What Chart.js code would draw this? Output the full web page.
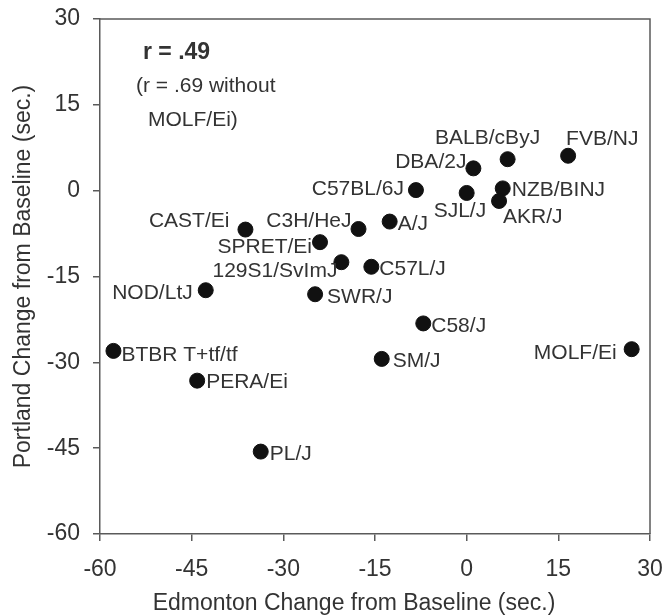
<!DOCTYPE html>
<html>
<head>
<meta charset="utf-8">
<script src="https://cdn.jsdelivr.net/npm/chart.js@4"></script>
<style>
  html, body { margin: 0; padding: 0; background: #fff; }
  #wrap { width: 667px; height: 616px; }
</style>
</head>
<body>
<div id="wrap"><canvas id="grafico" width="667" height="616"></canvas></div>
<script>
const strains = ["BALB/cByJ", "FVB/NJ", "DBA/2J", "C57BL/6J", "SJL/J", "NZB/BINJ", "AKR/J",
  "C3H/HeJ", "A/J", "CAST/Ei", "SPRET/Ei", "129S1/SvImJ", "C57L/J", "NOD/LtJ", "SWR/J",
  "C58/J", "SM/J", "MOLF/Ei", "BTBR T+tf/tf", "PERA/Ei", "PL/J"];
const edmonton = [6.7, 16.6, 1.1, -8.3, 0.0, 5.9, 5.3,
  -17.7, -12.6, -36.2, -24.0, -20.5, -15.6, -42.7, -24.8,
  -7.1, -13.9, 27.0, -57.8, -44.1, -33.7];
const portland = [5.5, 6.1, 3.9, 0.1, -0.4, 0.4, -1.8,
  -6.7, -5.4, -6.8, -9.0, -12.5, -13.3, -17.4, -18.1,
  -23.2, -29.4, -27.7, -28.0, -33.2, -45.6];
const xTicks = [-60, -45, -30, -15, 0, 15, 30];
const yTicks = [-60, -45, -30, -15, 0, 15, 30];

const FONT = "'Liberation Sans', Arial, sans-serif";
const TEXT = "#333333";
const AXIS = "#5a5a5a";

// where each strain name sits relative to its dot: [dx, dy, align]
const labelPos = {
  "BALB/cByJ": [-20, -23, "center"],
  "FVB/NJ": [-2, -18, "left"],
  "DBA/2J": [-7, -8, "right"],
  "C57BL/6J": [-12, -3, "right"],
  "SJL/J": [-33, 17, "left"],
  "NZB/BINJ": [9, 0, "left"],
  "AKR/J": [4, 15, "left"],
  "C3H/HeJ": [-7, -10, "right"],
  "A/J": [8, 1, "left"],
  "CAST/Ei": [-16, -10, "right"],
  "SPRET/Ei": [-8, 3, "right"],
  "129S1/SvImJ": [-4, 7, "right"],
  "C57L/J": [8, 1, "left"],
  "NOD/LtJ": [-13, 1, "right"],
  "SWR/J": [12, 1, "left"],
  "C58/J": [8, 1, "left"],
  "SM/J": [11, 1, "left"],
  "MOLF/Ei": [-15, 2, "right"],
  "BTBR T+tf/tf": [8, 3, "left"],
  "PERA/Ei": [9, 0, "left"],
  "PL/J": [9, 1, "left"]
};

const labelsPlugin = {
  id: "pointLabels",
  afterDatasetsDraw(chart) {
    const ctx = chart.ctx;
    const meta = chart.getDatasetMeta(0);
    const area = chart.chartArea;
    ctx.save();
    ctx.fillStyle = TEXT;
    ctx.font = "21px " + FONT;
    ctx.textBaseline = "alphabetic";
    meta.data.forEach((pt, i) => {
      const p = labelPos[strains[i]] || [9, 0, "left"];
      ctx.textAlign = p[2];
      ctx.fillText(strains[i], pt.x + p[0], pt.y + p[1] + 7.5);
    });

    // correlation note
    ctx.textAlign = "left";
    ctx.font = "bold 23px " + FONT;
    ctx.fillText("r = .49", area.left + 43, area.top + 40);
    ctx.font = "21px " + FONT;
    ctx.fillText("(r = .69 without", area.left + 36, area.top + 73);
    ctx.fillText("MOLF/Ei)", area.left + 48, area.top + 107);

    // axis titles
    ctx.font = "23px " + FONT;
    ctx.textAlign = "center";
    ctx.textBaseline = "middle";
    ctx.fillText("Edmonton Change from Baseline (sec.)", 354, 604);
    ctx.translate(24, (area.top + area.bottom) / 2);
    ctx.rotate(-Math.PI / 2);
    ctx.fillText("Portland Change from Baseline (sec.)", 0, 0);
    ctx.restore();

    // top and right frame
    ctx.save();
    ctx.strokeStyle = AXIS;
    ctx.lineWidth = 1.5;
    ctx.beginPath();
    ctx.moveTo(area.left, area.top);
    ctx.lineTo(area.right, area.top);
    ctx.lineTo(area.right, area.bottom);
    ctx.stroke();
    ctx.restore();
  }
};

const ctxGrafico = document.getElementById("grafico");
new Chart(ctxGrafico.getContext("2d"), {
  type: "scatter",
  data: {
    datasets: [{
      label: "Strains",
      data: edmonton.map((x, i) => ({ x: x, y: portland[i] })),
      backgroundColor: "#111111",
      borderColor: "#111111",
      pointRadius: 7.5,
      pointHoverRadius: 7.5
    }]
  },
  options: {
    responsive: false,
    animation: false,
    layout: { padding: { top: 19, right: 17, left: 0, bottom: 0 } },
    plugins: {
      legend: { display: false },
      tooltip: { enabled: false }
    },
    scales: {
      x: {
        type: "linear",
        min: -60,
        max: 30,
        afterBuildTicks: (s) => { s.ticks = xTicks.map((v) => ({ value: v })); },
        afterFit: (s) => { s.height = 82; s.paddingLeft = 0; s.paddingRight = 0; },
        grid: { drawOnChartArea: false, drawTicks: true, tickLength: 7, color: AXIS, lineWidth: 1.5 },
        border: { display: true, color: AXIS, width: 1.5 },
        ticks: { color: TEXT, font: { family: FONT, size: 23 }, padding: 15, maxRotation: 0 }
      },
      y: {
        type: "linear",
        min: -60,
        max: 30,
        afterBuildTicks: (s) => { s.ticks = yTicks.map((v) => ({ value: v })); },
        afterFit: (s) => { s.width = 100; s.paddingTop = 0; s.paddingBottom = 0; },
        grid: { drawOnChartArea: false, drawTicks: true, tickLength: 7, color: AXIS, lineWidth: 1.5 },
        border: { display: true, color: AXIS, width: 1.5 },
        ticks: { color: TEXT, font: { family: FONT, size: 23 }, padding: 13 }
      }
    }
  },
  plugins: [labelsPlugin]
});
</script>
</body>
</html>
